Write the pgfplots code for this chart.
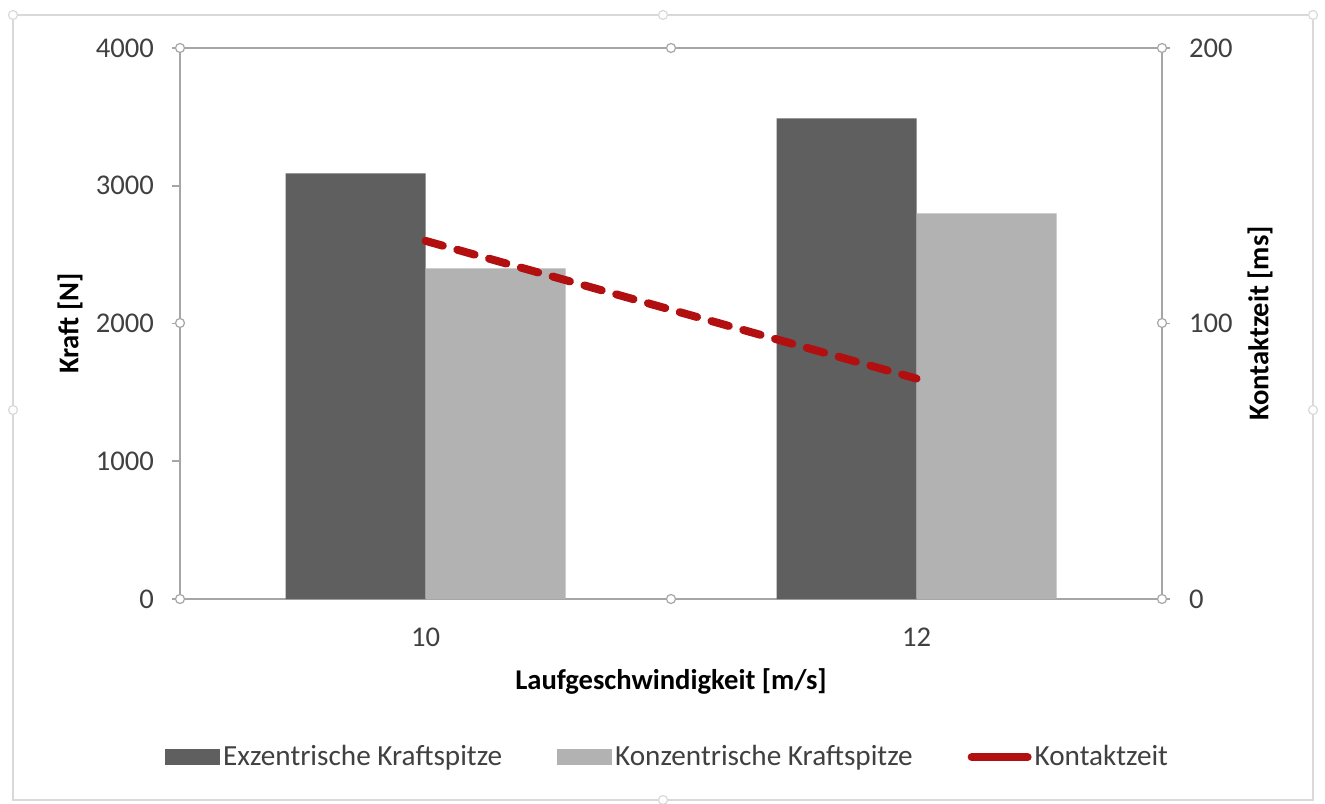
\documentclass[border=0pt]{standalone}
\usepackage{pgfplots}
\pgfplotsset{compat=1.18}
\usepackage{fontspec}
\setmainfont{Carlito}
\definecolor{darkbar}{RGB}{95,95,95}
\definecolor{lightbar}{RGB}{178,178,178}
\definecolor{kred}{RGB}{178,16,16}
\definecolor{axgray}{RGB}{166,166,166}
\definecolor{framegray}{RGB}{217,217,217}
\definecolor{txtgray}{RGB}{64,64,64}
\begin{document}
\begin{tikzpicture}[x=0.5pt,y=0.5pt]
\useasboundingbox (0,0) rectangle (1325,803);
\draw[framegray, line width=1.2pt] (13,3) rectangle (1313,788);
\pgfplotsset{
  common/.style={
    scale only axis, width=491pt, height=275.5pt,
    at={(90pt,102pt)}, anchor=south west,
    xmin=-0.5, xmax=1.5,
    axis line style={axgray, line width=0.9pt},
    major tick style={axgray, line width=0.9pt},
    major tick length=4pt,
    tick align=outside,
    ticklabel style={font=\fontsize{14.3}{16}\selectfont, text=txtgray},
    /pgf/number format/assume math mode=true,
    label style={font=\fontsize{14.3}{16}\selectfont\bfseries, text=black},
  }
}
\begin{axis}[common,
  ymin=0, ymax=4000, ytick={0,1000,2000,3000,4000},
  ytick pos=left, xtick pos=bottom,
  xtick={0,1}, xticklabels={10,12},
  xtick style={draw=none},
  yticklabel style={xshift=-5.5pt},
  xticklabel style={yshift=-7pt},
  scaled y ticks=false,
  /pgf/number format/1000 sep={},
  ybar=0pt, bar width=70pt,
  xlabel={Laufgeschwindigkeit [m/s]},
  xlabel style={at={(axis description cs:0.5,0)}, anchor=base, yshift=-45pt},
  ylabel={Kraft [N]},
  ylabel style={at={(axis description cs:0,0.5)}, anchor=center, yshift=55pt},
  legend columns=3,
  legend style={at={(axis description cs:0.497,-0.287)}, anchor=center, draw=none,
    font=\fontsize{14.6}{16}\selectfont, text=txtgray,
    /tikz/every even column/.append style={column sep=26pt},
    nodes={inner sep=1.5pt}},
  legend cell align=left,
]
\addplot[fill=darkbar, draw=none,
  legend image code/.code={\fill[darkbar] (0pt,-4pt) rectangle (27.5pt,4pt);}]
  coordinates {(0,3090) (1,3490)};
\addlegendentry{Exzentrische Kraftspitze}
\addplot[fill=lightbar, draw=none,
  legend image code/.code={\fill[lightbar] (0pt,-4pt) rectangle (27.5pt,4pt);}]
  coordinates {(0,2400) (1,2800)};
\addlegendentry{Konzentrische Kraftspitze}
\addlegendimage{legend image code/.code={\draw[kred, line width=4pt, line cap=round] (2pt,0pt) -- (30pt,0pt);}}
\addlegendentry{Kontaktzeit}
\end{axis}
\begin{axis}[common,
  ymin=0, ymax=200, ytick={0,100,200},
  axis x line=none, axis y line*=right,
  yticklabel style={xshift=6pt},
  ylabel={Kontaktzeit [ms]},
  ylabel style={at={(axis description cs:1,0.5)}, anchor=center, yshift=-49pt},
]
\addplot[kred, line width=4pt, line cap=round, dash pattern=on 9pt off 7.5pt]
  coordinates {(0,130) (1,80)};
\end{axis}
\tikzset{handle/.style={draw=axgray, fill=white, line width=0.6pt}}
\foreach \p in {(180,755),(671,755),(1162,755),(180,480),(1162,480),(180,204),(671,204),(1162,204)}
  \draw[handle] \p circle (4.5);
\foreach \p in {(13,788),(663,788),(1313,788),(13,393),(1313,393),(663,3)}
  \draw[handle, draw=framegray] \p circle (4.5);
\end{tikzpicture}
\end{document}
